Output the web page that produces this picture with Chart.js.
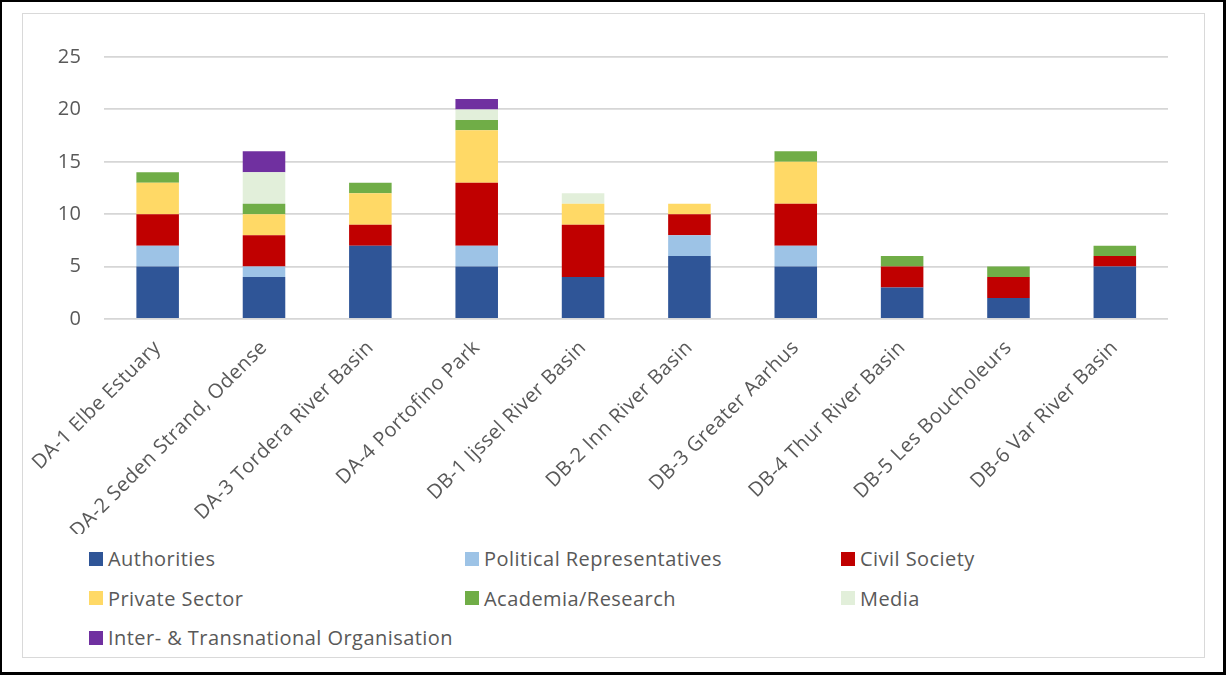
<!DOCTYPE html>
<html>
<head>
<meta charset="utf-8">
<title>Stakeholder groups per case area</title>
<script src="https://cdn.jsdelivr.net/npm/chart.js@4/dist/chart.umd.min.js"></script>
<style>
  html, body { margin: 0; padding: 0; background: #fff; }
  body { width: 1226px; height: 675px; position: relative; overflow: hidden; font-family: 'Open Sans', sans-serif; }
  #frame { position: absolute; left: 0; top: 0; width: 1226px; height: 675px; box-sizing: border-box; border: 2px solid #000; border-right-width: 3px; border-bottom-width: 3px; }
  #panel { position: absolute; left: 22px; top: 13px; width: 1183px; height: 645px; box-sizing: border-box; border: 1px solid #d9d9d9; }
  #chart { position: absolute; left: 23px; top: 14px; }
  #legend { position: absolute; left: 89px; top: 539px; display: grid; grid-template-columns: 376px 376px 376px; grid-auto-rows: 39.5px; }
  .item { display: flex; align-items: center; height: 39.5px; font-size: 20px; letter-spacing: 0.45px; color: #595959; white-space: nowrap; }
  .swatch { width: 14px; height: 14px; margin-right: 5px; flex: none; }
</style>
</head>
<body>
<div id="frame"></div>
<div id="panel"></div>
<canvas id="chart" width="1181" height="520"></canvas>
<div id="legend"></div>
<script>
// Case areas
const categories = [
  'DA-1 Elbe Estuary',
  'DA-2 Seden Strand, Odense',
  'DA-3 Tordera River Basin',
  'DA-4 Portofino Park',
  'DB-1 Ijssel River Basin',
  'DB-2 Inn River Basin',
  'DB-3 Greater Aarhus',
  'DB-4 Thur River Basin',
  'DB-5 Les Boucholeurs',
  'DB-6 Var River Basin'
];

// Number of stakeholders per group and case area
const authorities      = [5, 4, 7, 5, 4, 6, 5, 3, 2, 5];
const politicalReps    = [2, 1, 0, 2, 0, 2, 2, 0, 0, 0];
const civilSociety     = [3, 3, 2, 6, 5, 2, 4, 2, 2, 1];
const privateSector    = [3, 2, 3, 5, 2, 1, 4, 0, 0, 0];
const academiaResearch = [1, 1, 1, 1, 0, 0, 1, 1, 1, 1];
const media            = [0, 3, 0, 1, 1, 0, 0, 0, 0, 0];
const interTransOrg    = [0, 2, 0, 1, 0, 0, 0, 0, 0, 0];

// Value axis ticks
const yTicks = [0, 5, 10, 15, 20, 25];

const seriesNames = [
  'Authorities',
  'Political Representatives',
  'Civil Society',
  'Private Sector',
  'Academia/Research',
  'Media',
  'Inter- & Transnational Organisation'
];
const seriesValues = [authorities, politicalReps, civilSociety, privateSector, academiaResearch, media, interTransOrg];
const seriesColors = ['#2F5597', '#9DC3E6', '#C00000', '#FFD966', '#70AD47', '#E2EFDA', '#7030A0'];

const textColor = '#595959';
const fontFamily = "'Open Sans', sans-serif";

// Slightly open tracking for the axis labels
const labelTracking = {
  id: 'labelTracking',
  beforeUpdate(chart) { chart.ctx.letterSpacing = '0.45px'; },
  beforeDraw(chart) { chart.ctx.letterSpacing = '0.45px'; }
};

// HTML legend laid out as a three-column grid
const gridLegend = {
  id: 'gridLegend',
  afterUpdate(chart) {
    const box = document.getElementById('legend');
    box.innerHTML = '';
    chart.data.datasets.forEach(ds => {
      const item = document.createElement('div');
      item.className = 'item';
      const sw = document.createElement('span');
      sw.className = 'swatch';
      sw.style.background = ds.backgroundColor;
      const label = document.createElement('span');
      label.textContent = ds.label;
      item.appendChild(sw);
      item.appendChild(label);
      box.appendChild(item);
    });
  }
};

function draw() {
  Chart.defaults.font.family = fontFamily;
  Chart.defaults.font.size = 20;
  Chart.defaults.color = textColor;

  new Chart(document.getElementById('chart'), {
    type: 'bar',
    data: {
      labels: categories,
      datasets: seriesNames.map((name, i) => ({
        label: name,
        data: seriesValues[i],
        backgroundColor: seriesColors[i],
        borderWidth: 0,
        categoryPercentage: 1,
        barPercentage: 0.4
      }))
    },
    options: {
      responsive: false,
      animation: false,
      layout: { padding: { top: 43, right: 36, left: 0, bottom: 0 } },
      plugins: {
        legend: { display: false },
        tooltip: { enabled: false }
      },
      scales: {
        x: {
          stacked: true,
          grid: { display: false },
          border: { display: false },
          ticks: {
            minRotation: 45,
            maxRotation: 45,
            autoSkip: false,
            padding: 9,
            color: textColor,
            font: { size: 20, family: fontFamily }
          },
          afterFit(scale) { scale.height = 215; }
        },
        y: {
          stacked: true,
          min: yTicks[0],
          max: yTicks[yTicks.length - 1],
          afterBuildTicks(scale) { scale.ticks = yTicks.map(v => ({ value: v })); },
          grid: { color: '#d6d6d6', lineWidth: 1.8, drawTicks: false },
          border: { display: false },
          ticks: {
            padding: 23,
            color: textColor,
            font: { size: 20, family: fontFamily }
          },
          afterFit(scale) { scale.width = 80; }
        }
      }
    },
    plugins: [labelTracking, gridLegend]
  });
}

if (document.fonts && document.fonts.load) {
  document.fonts.load("20px 'Open Sans'").then(draw, draw);
} else {
  draw();
}
</script>
</body>
</html>
